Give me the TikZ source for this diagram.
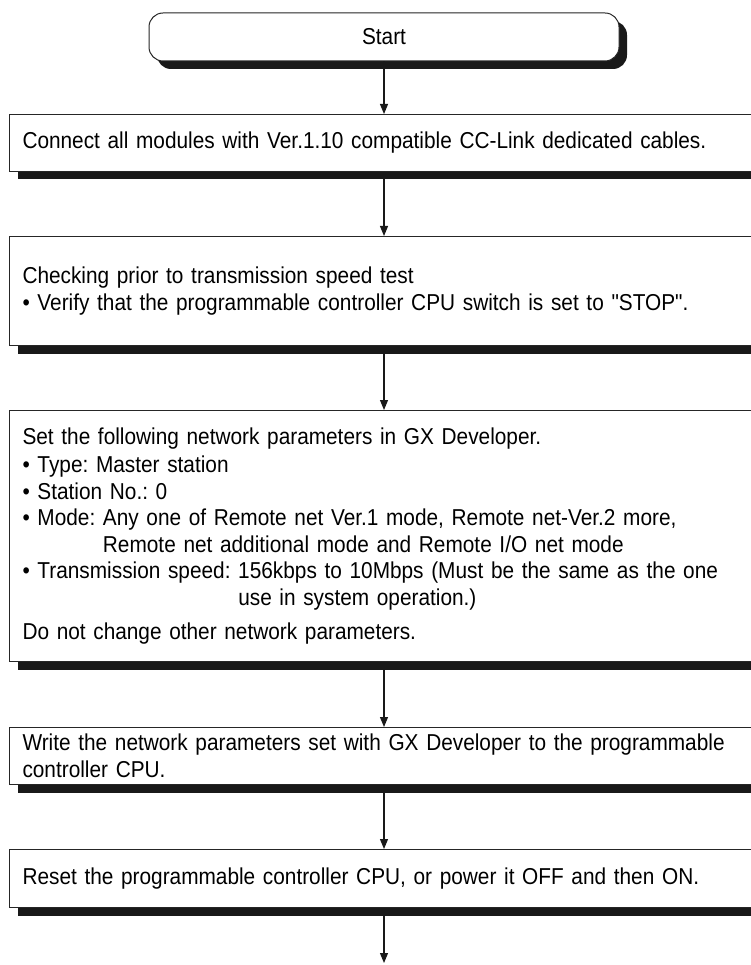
\documentclass[tikz,border=0pt]{standalone}
\usepackage{fontspec}
\setmainfont{Liberation Sans}[FakeStretch=0.905,Ligatures=TeXOff]
\usetikzlibrary{arrows.meta,shadows}

\begin{document}
\frenchspacing
\begin{tikzpicture}[x=1pt,y=-1pt,>={Triangle[length=10pt,width=8pt]},
    every node/.style={font=\fontsize{23}{26.5}\selectfont},
    boxshadow/.style={drop shadow={shadow xshift=8pt,shadow yshift=-8pt,opacity=1,fill=black!90}},
    startbox/.style={draw=black!85,line width=1pt,fill=white,rounded corners=14pt,
      minimum width=470pt,minimum height=48pt,boxshadow},
    stepbox/.style={draw=black!85,line width=1pt,fill=white,anchor=north west,align=left,
      text width=760pt,inner xsep=13pt,inner ysep=2pt,boxshadow},
    flow/.style={->,line width=1.1pt,black!90}]
  \clip (0,0) rectangle (751,965);
  \node[startbox] (start) at (384,37) {Start};
  \node[stepbox,minimum height=57pt] (cable) at (9,114)
    {Connect all modules with Ver.1.10 compatible CC-Link dedicated cables.};
  \node[stepbox,minimum height=109pt] (check) at (9,236)
    {Checking prior to transmission speed test\\
     \textbullet\ Verify that the programmable controller CPU switch is set to "STOP".};
  \node[stepbox,minimum height=251pt] (param) at (9,410)
    {Set the following network parameters in GX Developer.\\[2pt]
     \textbullet\ Type: Master station\\
     \textbullet\ Station No.: 0\\
     \textbullet\ Mode:\ Any one of Remote net Ver.1 mode, Remote net-Ver.2 more,\\
     \hphantom{\textbullet\ Mode:\ }Remote net additional mode and Remote I/O net mode\\
     \textbullet\ Transmission speed:\ 156kbps to 10Mbps (Must be the same as the one\\
     \hphantom{\textbullet\ Transmission speed:\ }use in system operation.)\\[8pt]
     Do not change other network parameters.};
  \node[stepbox,minimum height=57pt] (write) at (9,727)
    {Write the network parameters set with GX Developer to the programmable\\
     controller CPU.};
  \node[stepbox,minimum height=58pt] (reset) at (9,849)
    {Reset the programmable controller CPU, or power it OFF and then ON.};
  \coordinate (next) at (384,963);

  \draw[flow] (start.south) -- (start.south |- cable.north);
  \draw[flow] (start.south |- cable.south) -- (start.south |- check.north);
  \draw[flow] (start.south |- check.south) -- (start.south |- param.north);
  \draw[flow] (start.south |- param.south) -- (start.south |- write.north);
  \draw[flow] (start.south |- write.south) -- (start.south |- reset.north);
  \draw[flow] (start.south |- reset.south) -- (next);
\end{tikzpicture}
\end{document}
